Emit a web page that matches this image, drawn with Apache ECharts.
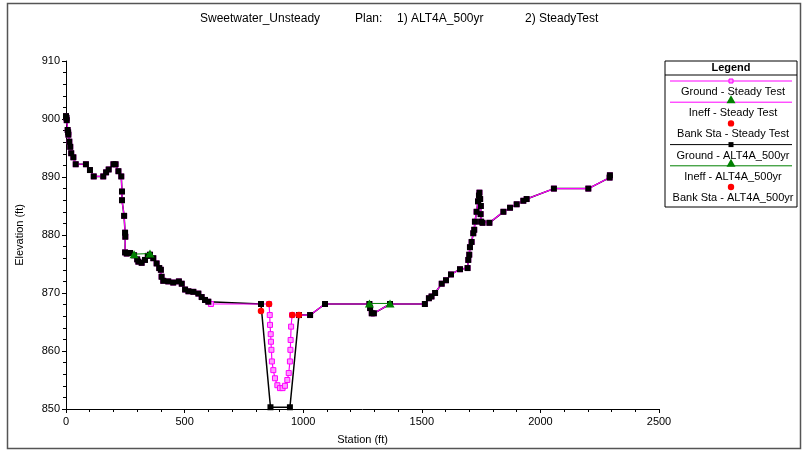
<!DOCTYPE html>
<html><head><meta charset="utf-8">
<script src="https://cdn.jsdelivr.net/npm/echarts@6/dist/echarts.min.js"></script>
<style>html,body{margin:0;padding:0;background:#fff}#c{width:804px;height:454px}</style>
</head><body><div id="c"></div>
<script>
// ---- text ----
const titleParts = ['Sweetwater_Unsteady', 'Plan:', '1) ALT4A_500yr', '2) SteadyTest'];
const xName = 'Station (ft)';
const yName = 'Elevation (ft)';
const legendTitle = 'Legend';
const seriesNames = ['Ground - Steady Test', 'Ineff - Steady Test', 'Bank Sta - Steady Test',
                     'Ground - ALT4A_500yr', 'Ineff - ALT4A_500yr', 'Bank Sta - ALT4A_500yr'];
// ---- axes ----
const xMin = 0, xMax = 2500, xStep = 500;
const yMin = 850, yMax = 910, yStep = 10;

// ---- data: [station (ft), elevation (ft)] ----
const leftOverbank = [[0,900.5],[2,900.2],[3,899.8],[7,898.1],[9,897.7],[10,897.3],[14,896.1],[18,895.2],[22,894.1],[31,893.4],[41,892.2],[84,892.2],[101,891.2],[117,890.1],[157,890.1],[169,890.8],[180,891.3],[200,892.2],[209,892.2],[221,891.0],[233,890.1],[236,887.5],[236,886.0],[245,883.3],[249,880.4],[250,879.7],[249,877.0],[256,876.8],[270,876.9],[287,876.5],[300,875.8],[305,875.4],[319,875.2],[333,875.7],[345,876.4],[354,876.6],[368,876.0],[382,875.1],[393,874.3],[400,874.0],[403,872.8],[410,872.1],[431,872.0],[452,871.8],[476,872.0],[488,871.6],[502,870.6],[516,870.3],[537,870.2],[558,869.9],[572,869.3],[586,868.8],[600,868.5]];
const steadyChannel = [[611,868.1],[822,868.1],[856,868.1],[859,866.2],[860,864.5],[863,862.9],[864,861.6],[866,860.2],[868,858.2],[874,856.7],[881,855.3],[891,854.1],[902,853.6],[913,853.6],[923,854.0],[933,855.0],[939,856.2],[944,858.2],[946,860.2],[947,861.9],[949,864.2],[953,866.2],[982,866.2]];
const altChannel = [[822,868.1],[862,850.3],[944,850.3],[982,866.2]];
const rightOverbank = [[1029,866.2],[1092,868.1],[1279,868.1],[1282,867.4],[1289,866.5],[1298,866.5],[1366,868.1],[1513,868.1],[1530,869.1],[1541,869.4],[1556,870.0],[1584,871.6],[1602,872.2],[1623,873.2],[1661,874.1],[1693,874.3],[1696,875.7],[1700,876.6],[1703,877.9],[1710,878.8],[1717,880.3],[1721,880.9],[1724,882.3],[1731,884.0],[1737,885.8],[1741,886.8],[1743,887.3],[1746,886.2],[1749,885.0],[1748,883.6],[1750,882.3],[1756,882.1],[1785,882.1],[1844,884.0],[1872,884.7],[1900,885.3],[1928,885.9],[1942,886.2],[2057,888.0],[2202,888.0],[2292,889.9],[2293,890.3]];
const ineffAltLeft = [[287,876.7],[354,876.8]];
const ineffAltRight = [[1279,868.2],[1366,868.2]];
const bankSteady = [[856,868.1],[954,866.2]];
const bankAlt = [[822,866.9],[982,866.2]];

const groundSteady = leftOverbank.concat(steadyChannel, rightOverbank);
const groundAlt = leftOverbank.concat(altChannel, rightOverbank);

const FONT = '"Liberation Sans", Arial, sans-serif';
const MAG = '#ff00ff', GREEN = '#008000', RED = '#ff0000';

const chart = echarts.init(document.getElementById('c'), null, {renderer: 'canvas'});

// legend drawn as graphic
const LX0 = 665, LX1 = 797, LY0 = 61, LY1 = 207, LCX = 731;
const legendEls = [
  {type:'rect', shape:{x:LX0, y:LY0, width:LX1-LX0, height:LY1-LY0}, style:{fill:'#fff', stroke:'#000', lineWidth:1}, z:10},
  {type:'text', style:{text:legendTitle, x:(LX0+LX1)/2, y:68, align:'center', verticalAlign:'middle', font:'bold 11px '+FONT, fill:'#000'}, z:11},
  {type:'line', shape:{x1:LX0, y1:75, x2:LX1, y2:75}, style:{stroke:'#000', lineWidth:1}, z:11}
];
const legendKinds = [
  {line:MAG, mark:'sq'}, {line:MAG, mark:'tri'}, {line:null, mark:'dot'},
  {line:'#000', mark:'bsq'}, {line:GREEN, mark:'tri'}, {line:null, mark:'dot'}
];
legendKinds.forEach((k, i) => {
  const ly = 81 + i * 21.2;
  if (k.line) legendEls.push({type:'line', shape:{x1:670, y1:ly, x2:792, y2:ly}, style:{stroke:k.line, lineWidth:1}, z:11});
  if (k.mark === 'sq') legendEls.push({type:'rect', shape:{x:LCX-2, y:ly-2, width:4, height:4}, style:{fill:'#ff99ff', stroke:MAG, lineWidth:1}, z:12});
  if (k.mark === 'bsq') legendEls.push({type:'rect', shape:{x:LCX-2.5, y:ly-2.5, width:5, height:5}, style:{fill:'#000'}, z:12});
  if (k.mark === 'tri') legendEls.push({type:'polygon', shape:{points:[[LCX, ly-7],[LCX-4.5, ly+1],[LCX+4.5, ly+1]]}, style:{fill:GREEN}, z:12});
  if (k.mark === 'dot') legendEls.push({type:'circle', shape:{cx:LCX, cy:ly, r:3.2}, style:{fill:RED}, z:12});
  legendEls.push({type:'text', style:{text:seriesNames[i], x:LCX+2, y:ly+11, align:'center', verticalAlign:'middle', font:'11px '+FONT, fill:'#000'}, z:11});
});

const titleLefts = [195, 350, 392, 520];

chart.setOption({
  animation: false,
  backgroundColor: '#fff',
  title: titleParts.map((t, i) => ({text: t, left: titleLefts[i], top: 8, textStyle:{fontFamily:FONT, fontSize:12, fontWeight:'normal', color:'#000'}})),
  graphic: [
    {type:'rect', shape:{x:7.5, y:3.5, width:793, height:445}, style:{fill:'none', stroke:'#555', lineWidth:1.5}, z:1}
  ].concat(legendEls),
  grid: {left: 66, right: 145, top: 61, bottom: 45, containLabel: false},
  xAxis: {
    type:'value', min:xMin, max:xMax, interval:xStep,
    name:xName, nameLocation:'middle', nameGap:25,
    nameTextStyle:{fontFamily:FONT, fontSize:11, color:'#000'},
    axisLine:{show:true, onZero:false, lineStyle:{color:'#000', width:1}},
    axisTick:{show:true, length:4, lineStyle:{color:'#000'}},
    minorTick:{show:true, splitNumber:5, length:3, lineStyle:{color:'#000'}},
    axisLabel:{fontFamily:FONT, fontSize:11, color:'#000', margin:7, formatter: v => String(v)},
    splitLine:{show:false}
  },
  yAxis: {
    type:'value', min:yMin, max:yMax, interval:yStep,
    name:yName, nameLocation:'middle', nameGap:41,
    nameTextStyle:{fontFamily:FONT, fontSize:11, color:'#000'},
    axisLine:{show:true, onZero:false, lineStyle:{color:'#000', width:1}},
    axisTick:{show:true, length:4, lineStyle:{color:'#000'}},
    minorTick:{show:true, splitNumber:5, length:3, lineStyle:{color:'#000'}},
    axisLabel:{fontFamily:FONT, fontSize:11, color:'#000', margin:6, formatter: v => String(v)},
    splitLine:{show:false}
  },
  series: [
    {name:seriesNames[3], type:'line', data:groundAlt, showSymbol:false, symbol:'none',
     lineStyle:{color:'#000', width:1.5}, z:2},
    {name:seriesNames[0], type:'line', data:groundSteady, symbol:'rect', symbolSize:5, showSymbol:true,
     itemStyle:{color:'#ff99ff', borderColor:MAG, borderWidth:1}, lineStyle:{color:MAG, width:1.2}, z:3},
    {name:seriesNames[3]+' pts', type:'scatter', data:groundAlt, symbol:'rect', symbolSize:6,
     itemStyle:{color:'#000', opacity:1}, z:4},
    {name:seriesNames[4], type:'line', data:ineffAltLeft, symbol:'triangle', symbolSize:[9,8], showSymbol:true,
     itemStyle:{color:GREEN, opacity:1}, lineStyle:{color:GREEN, width:1}, z:5},
    {name:seriesNames[4]+' 2', type:'line', data:ineffAltRight, symbol:'triangle', symbolSize:[9,8], showSymbol:true,
     itemStyle:{color:GREEN, opacity:1}, lineStyle:{color:GREEN, width:1}, z:5},
    {name:seriesNames[2], type:'scatter', data:bankSteady, symbol:'circle', symbolSize:6.5, itemStyle:{color:RED, opacity:1}, z:6},
    {name:seriesNames[5], type:'scatter', data:bankAlt, symbol:'circle', symbolSize:6.5, itemStyle:{color:RED, opacity:1}, z:6}
  ]
});
</script>
</body></html>
